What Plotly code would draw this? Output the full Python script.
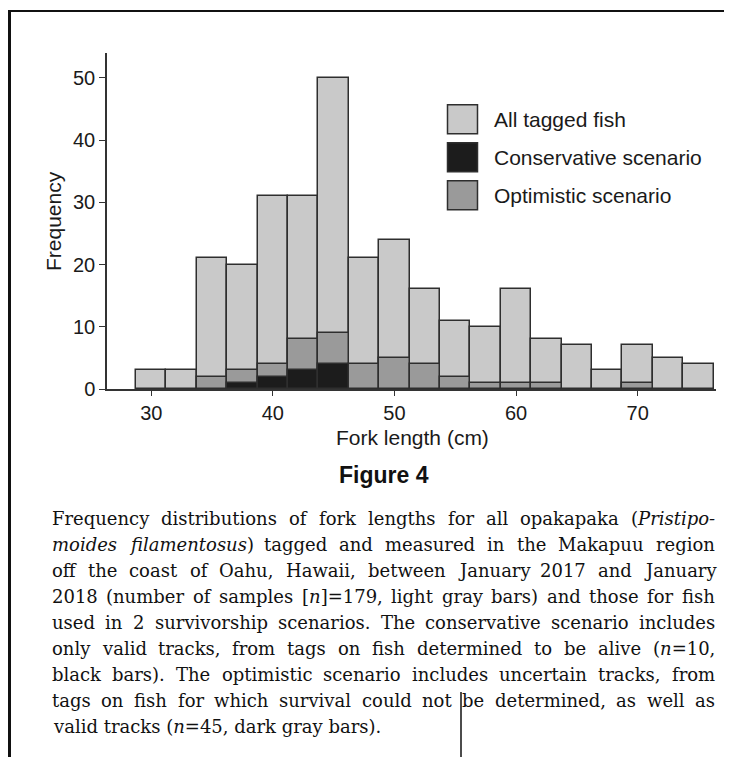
import re
import glob
import plotly.graph_objects as go

# ---------------- data ----------------
bin_centers = [30, 32.5, 35, 37.5, 40, 42.5, 45, 47.5, 50, 52.5, 55, 57.5,
               60, 62.5, 65, 67.5, 70, 72.5, 75]
all_tagged = [3, 3, 21, 20, 31, 31, 50, 21, 24, 16, 11, 10, 16, 8, 7, 3, 7, 5, 4]
optimistic = [0, 0, 2, 3, 4, 8, 9, 4, 5, 4, 2, 1, 1, 1, 0, 0, 1, 0, 0]
conservative = [0, 0, 0, 1, 2, 3, 4, 0, 0, 0, 0, 0, 0, 0, 0, 0, 0, 0, 0]
series_names = ["All tagged fish", "Conservative scenario", "Optimistic scenario"]
x_ticks = [30, 40, 50, 60, 70]
y_ticks = [0, 10, 20, 30, 40, 50]
bin_width = 2.5

caption_lines = [
    "Frequency distributions of fork lengths for all opakapaka (<i>Pristipo-</i>",
    "<i>moides filamentosus</i>) tagged and measured in the Makapuu region",
    "off the coast of Oahu, Hawaii, between January 2017 and January",
    "2018 (number of samples [<i>n</i>]=179, light gray bars) and those for fish",
    "used in 2 survivorship scenarios. The conservative scenario includes",
    "only valid tracks, from tags on fish determined to be alive (<i>n</i>=10,",
    "black bars). The optimistic scenario includes uncertain tracks, from",
    "tags on fish for which survival could not be determined, as well as",
    "valid tracks (<i>n</i>=45, dark gray bars).",
]

# ---------------- styles ----------------
W, H = 732, 757
L, R, T, B = 99, 708, 45, 381  # plot area in pixels
C_LIGHT, C_BLACK, C_DARK = "#c9c9c9", "#1c1c1c", "#9a9a9a"
EDGE = "#2e2e2e"
SANS = "Liberation Sans, Arial, sans-serif"
SERIF = "DejaVu Serif, serif"
CAP_SIZE = 18
CAP_LEFT, CAP_RIGHT = 43, 706
CAP_TOP, CAP_PITCH = 510, 26.1


def px(xp):
    return (xp - L) / (R - L)


def py(yp):
    return (B - yp) / (B - T)


def nz(vals):
    return [v if v else None for v in vals]


# ---- text measuring (for justified caption), optional ----
measure = None
try:
    from PIL import ImageFont

    def _find(name):
        hits = glob.glob("/usr/share/fonts/**/" + name, recursive=True)
        return hits[0] if hits else None

    _reg = _find("DejaVuSerif.ttf")
    _ita = _find("DejaVuSerif-Italic.ttf") or _reg
    if _reg:
        _f_reg = ImageFont.truetype(_reg, 100)
        _f_ita = ImageFont.truetype(_ita, 100)

        def measure(runs):
            w = 0.0
            for txt, it in runs:
                w += (_f_ita if it else _f_reg).getlength(txt) * CAP_SIZE / 100.0
            return w
except Exception:
    measure = None


def tokenize(line):
    """split a line with <i> tags into words, each a list of (text, italic) runs"""
    words, cur, italic = [], [], False
    for part in re.split(r"(<i>|</i>)", line):
        if part == "<i>":
            italic = True
            continue
        if part == "</i>":
            italic = False
            continue
        pieces = part.split(" ")
        for k, p in enumerate(pieces):
            if k > 0:
                words.append(cur)
                cur = []
            if p:
                cur.append((p, italic))
    if cur:
        words.append(cur)
    return [w for w in words if w]


def runs_to_html(runs):
    return "".join("<i>%s</i>" % t if it else t for t, it in runs)


fig = go.Figure()
for vals, color, name in [(all_tagged, C_LIGHT, series_names[0]),
                          (optimistic, C_DARK, series_names[2]),
                          (conservative, C_BLACK, series_names[1])]:
    fig.add_trace(go.Bar(
        x=bin_centers, y=nz(vals), width=bin_width, name=name,
        marker=dict(color=color, line=dict(color=EDGE, width=1.5)),
        showlegend=False,
    ))

shapes = []
annotations = []

# legend (boxes + labels)
legend_items = [(series_names[0], C_LIGHT), (series_names[1], C_BLACK),
                (series_names[2], C_DARK)]
for i, (name, color) in enumerate(legend_items):
    top = 96.7 + 38 * i
    shapes.append(dict(type="rect", xref="paper", yref="paper",
                       x0=px(439.5), x1=px(469.5), y0=py(top + 29), y1=py(top),
                       fillcolor=color, line=dict(color=EDGE, width=1.5)))
    annotations.append(dict(text=name, xref="paper", yref="paper",
                            x=px(484), y=py(top + 14.5), xanchor="left",
                            yanchor="middle", showarrow=False,
                            font=dict(family=SANS, size=21, color="#1a1a1a")))

# axis titles
annotations.append(dict(text="Fork length (cm)", xref="paper", yref="paper",
                        x=px(404), y=py(429), xanchor="center", yanchor="middle",
                        showarrow=False,
                        font=dict(family=SANS, size=21, color="#1a1a1a")))
annotations.append(dict(text="Frequency", xref="paper", yref="paper",
                        x=px(45), y=py(213), xanchor="center", yanchor="middle",
                        textangle=-90, showarrow=False,
                        font=dict(family=SANS, size=21, color="#1a1a1a")))

# figure label
annotations.append(dict(text="<b>Figure 4</b>", xref="paper", yref="paper",
                        x=px(376), y=py(467), xanchor="center", yanchor="middle",
                        showarrow=False,
                        font=dict(family=SANS, size=23, color="#111111")))

# caption (justified when text can be measured)
for i, line in enumerate(caption_lines):
    yv = py(CAP_TOP + CAP_PITCH * i)
    cap_font = dict(family=SERIF, size=CAP_SIZE, color="#111111")
    last = i == len(caption_lines) - 1
    if measure is None or last:
        annotations.append(dict(text=line, xref="paper", yref="paper",
                                x=px(CAP_LEFT), y=yv, xanchor="left",
                                yanchor="middle", showarrow=False, font=cap_font))
        continue
    words = tokenize(line)
    widths = [measure(w) for w in words]
    gap = (CAP_RIGHT - CAP_LEFT - sum(widths)) / max(len(words) - 1, 1)
    xcur = CAP_LEFT
    for w, wd in zip(words, widths):
        annotations.append(dict(text=runs_to_html(w), xref="paper", yref="paper",
                                x=px(xcur), y=yv, xanchor="left",
                                yanchor="middle", showarrow=False, font=cap_font,
                                borderpad=0))
        xcur += wd + gap

# page frame lines
shapes.append(dict(type="line", xref="paper", yref="paper",
                   x0=px(0), x1=px(732), y0=py(3), y1=py(3),
                   line=dict(color="#111111", width=2)))
shapes.append(dict(type="line", xref="paper", yref="paper",
                   x0=px(1.5), x1=px(1.5), y0=py(2), y1=py(757),
                   line=dict(color="#111111", width=3)))
shapes.append(dict(type="line", xref="paper", yref="paper",
                   x0=px(453), x1=px(453), y0=py(684), y1=py(757),
                   line=dict(color="#111111", width=1.5)))

fig.update_layout(
    width=W, height=H,
    margin=dict(l=L, r=W - R, t=T, b=H - B, pad=0),
    paper_bgcolor="white", plot_bgcolor="white",
    barmode="overlay", bargap=0,
    shapes=shapes, annotations=annotations,
    showlegend=False,
    font=dict(family=SANS, color="#1a1a1a"),
)
fig.update_xaxes(range=[26.36, 76.44], tickvals=x_ticks, ticks="outside",
                 ticklen=5, tickwidth=1.3, tickcolor="#333333",
                 showline=True, linecolor="#333333", linewidth=1.5,
                 showgrid=False, zeroline=False,
                 tickfont=dict(family=SANS, size=20, color="#1a1a1a"))
fig.update_yaxes(range=[0, 54], tickvals=y_ticks, ticks="outside",
                 ticklen=6, tickwidth=1.3, tickcolor="#333333",
                 showline=True, linecolor="#333333", linewidth=1.5,
                 showgrid=False, zeroline=False,
                 tickfont=dict(family=SANS, size=20, color="#1a1a1a"))

fig.write_html("out.html")
